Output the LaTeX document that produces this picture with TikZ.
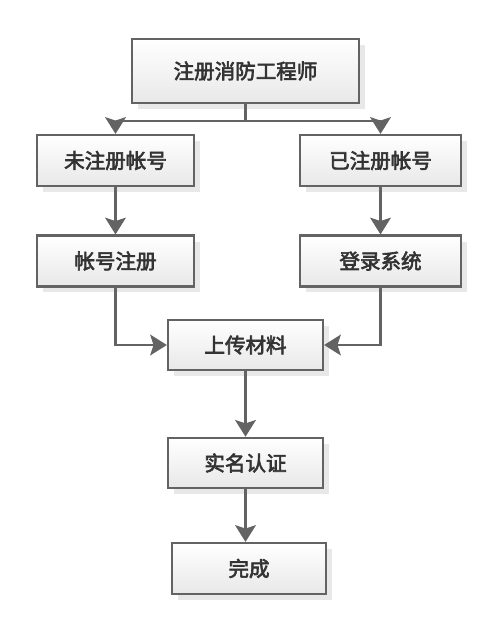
\documentclass[tikz,border=0pt]{standalone}
\usepackage{fontspec}
\newfontfamily\cjk[FakeBold=3]{Noto Sans CJK SC}
\usepackage{tikz}
\usetikzlibrary{arrows.meta}
\usetikzlibrary{shadows}
\definecolor{linegray}{HTML}{636363}
\definecolor{textgray}{HTML}{333333}
\tikzset{
  stepbox/.style={draw=linegray, line width=1.9pt, top color=white, bottom color=black!9,
    drop shadow={shadow xshift=4.5pt, shadow yshift=-4.5pt, fill=black!9, opacity=1},
    minimum height=38pt, text=textgray, font=\cjk\fontsize{15.4pt}{18pt}\selectfont},
  link/.style={draw=linegray, line width=1.9pt},
  >={Stealth[length=12.5pt,width=15.5pt,inset=2.5pt]}
}

\begin{document}
\begin{tikzpicture}[x=0.75pt,y=-0.75pt]
    \useasboundingbox (0,0) rectangle (502,618);
    \node[stepbox, minimum width=170pt, minimum height=48pt] (reg) at (245.5,71) {注册消防工程师};
    \node[stepbox, minimum width=117.5pt] (new) at (115.5,160.5) {未注册帐号};
    \node[stepbox, minimum width=120.5pt] (old) at (380.5,160.5) {已注册帐号};
    \node[stepbox, minimum width=117.5pt] (signup) at (115.5,261) {帐号注册};
    \node[stepbox, minimum width=120.5pt] (login) at (380.5,261) {登录系统};
    \node[stepbox, minimum width=116pt, minimum height=37.5pt] (upload) at (245.5,345) {上传材料};
    \node[stepbox, minimum width=116pt, minimum height=37.5pt] (verify) at (245.5,463) {实名认证};
    \node[stepbox, minimum width=115.5pt] (done) at (249,568.5) {完成};
    \coordinate (fork) at (245.5,121);
    \draw[link] (reg) to (fork);
    \draw[link] (fork -| new) to (fork -| old);
    \draw[link, ->] (fork -| new) to (new);
    \draw[link, ->] (fork -| old) to (old);
    \draw[link, ->] (new) to (signup);
    \draw[link, ->] (old) to (login);
    \draw[link, ->] (signup) |- (upload);
    \draw[link, ->] (login) |- (upload);
    \draw[link, ->] (upload) to (verify);
    \draw[link, ->] (verify.south) to (verify.south |- done.north);
  \end{tikzpicture}
\end{document}
